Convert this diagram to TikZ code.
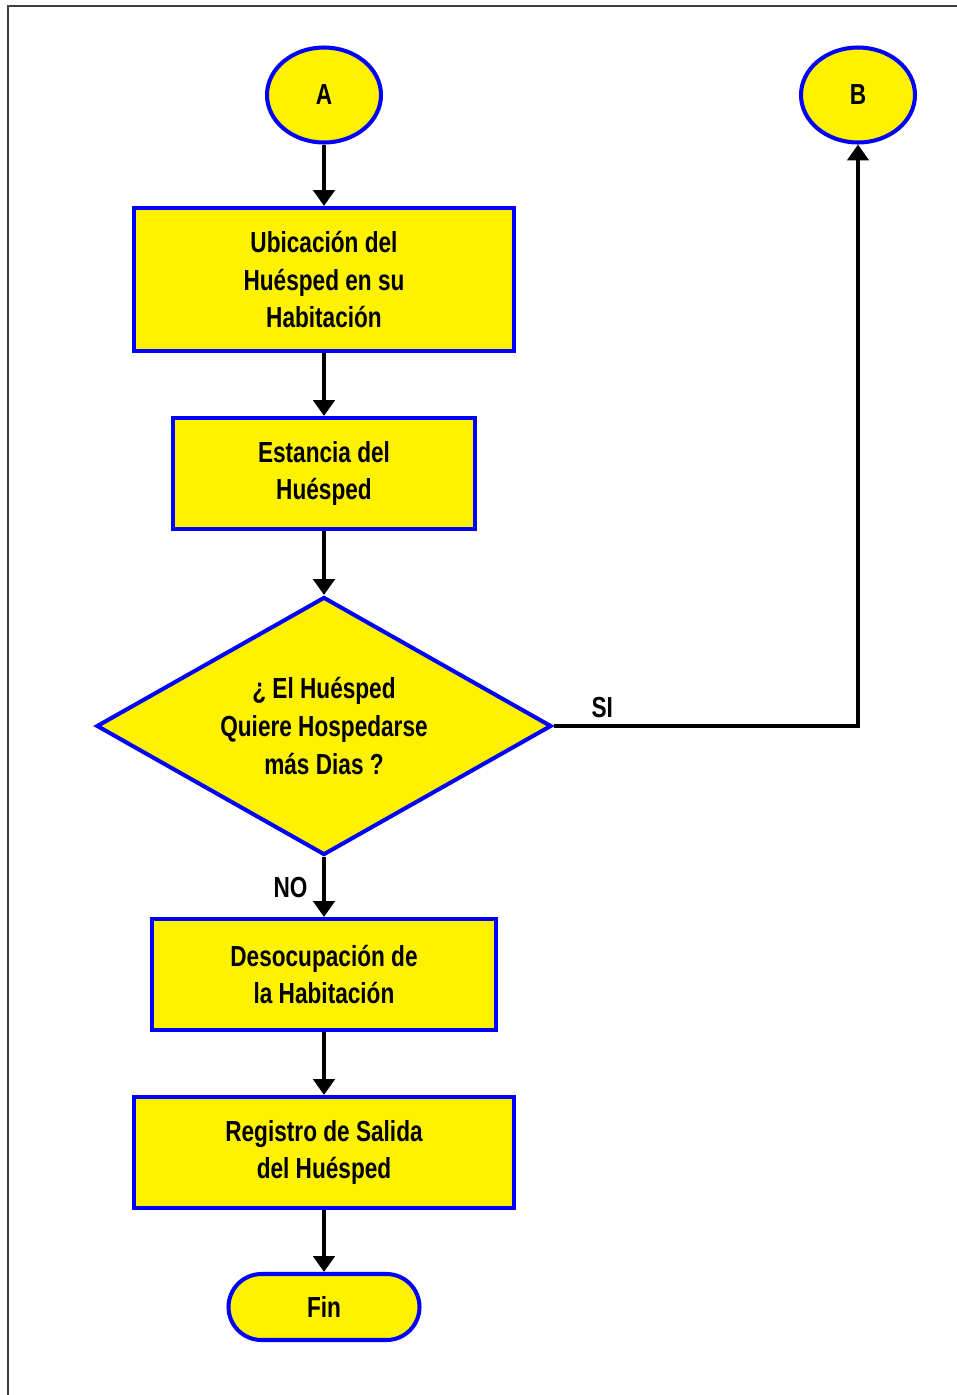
\documentclass[tikz,border=0pt]{standalone}
\usepackage{fontspec}
\setmainfont{Liberation Sans}[FakeStretch=0.78]
\usetikzlibrary{shapes.geometric,shapes.misc,arrows.meta}

\tikzset{
  conector/.style={ellipse, draw=blue, fill=yellow, line width=2.3pt, inner sep=0pt, minimum width=2.28cm, minimum height=1.9cm},
  proceso/.style={rectangle, draw=blue, fill=yellow, line width=2.3pt, inner sep=0pt, minimum height=2.22cm},
  decision/.style={diamond, aspect=1.76, draw=blue, fill=yellow, line width=2.3pt, inner sep=0pt, minimum width=9.1cm, minimum height=5.16cm},
  terminal/.style={rounded rectangle, draw=blue, fill=yellow, line width=2.3pt, inner sep=0pt, minimum width=3.82cm, minimum height=1.32cm}
}

\begin{document}
\begin{tikzpicture}[->, >={Triangle[width=12pt,length=9pt]}, line width=2.2pt, node distance=3cm,
    every node/.style={font=\fontsize{16.5}{21.5}\selectfont\bfseries, align=center}]
    \useasboundingbox (0,0) rectangle (19.14,-27.9);
    % Marco
    \draw[-, line width=1.3pt, black!75] (0.16,-27.9) -- (0.16,-0.12) -- (19.14,-0.12);

    % Define nodes
    \node[conector] (A) at (6.48,-1.9) {A};
    \node[conector, right of=A, node distance=10.68cm] (B) {B};
    \node[proceso, minimum width=7.6cm, minimum height=2.86cm, below of=A, node distance=3.69cm] (ubic) {Ubicación del\\Huésped en su\\Habitación};
    \node[proceso, minimum width=6.04cm, below of=ubic, node distance=3.88cm] (est) {Estancia del\\Huésped};
    \node[decision, below of=est, node distance=5.05cm] (dec) {¿ El Huésped\\Quiere Hospedarse\\más Dias ?};
    \node[proceso, minimum width=6.88cm, below of=dec, node distance=4.97cm] (desoc) {Desocupación de\\la Habitación};
    \node[proceso, minimum width=7.6cm, below of=desoc, node distance=3.56cm] (reg) {Registro de Salida\\del Huésped};
    \node[terminal, below of=reg, node distance=3.09cm] (fin) {Fin};

    % Transitions between nodes
    \draw (A) -- (ubic);
    \draw (ubic) -- (est);
    \draw (est) -- (dec);
    \draw (dec) -- node[left=5pt] {NO} (desoc);
    \draw (dec.east) -| node[pos=0.08, above] {SI} (B);
    \draw (desoc) -- (reg);
    \draw (reg) -- (fin);

    \end{tikzpicture}
\end{document}
